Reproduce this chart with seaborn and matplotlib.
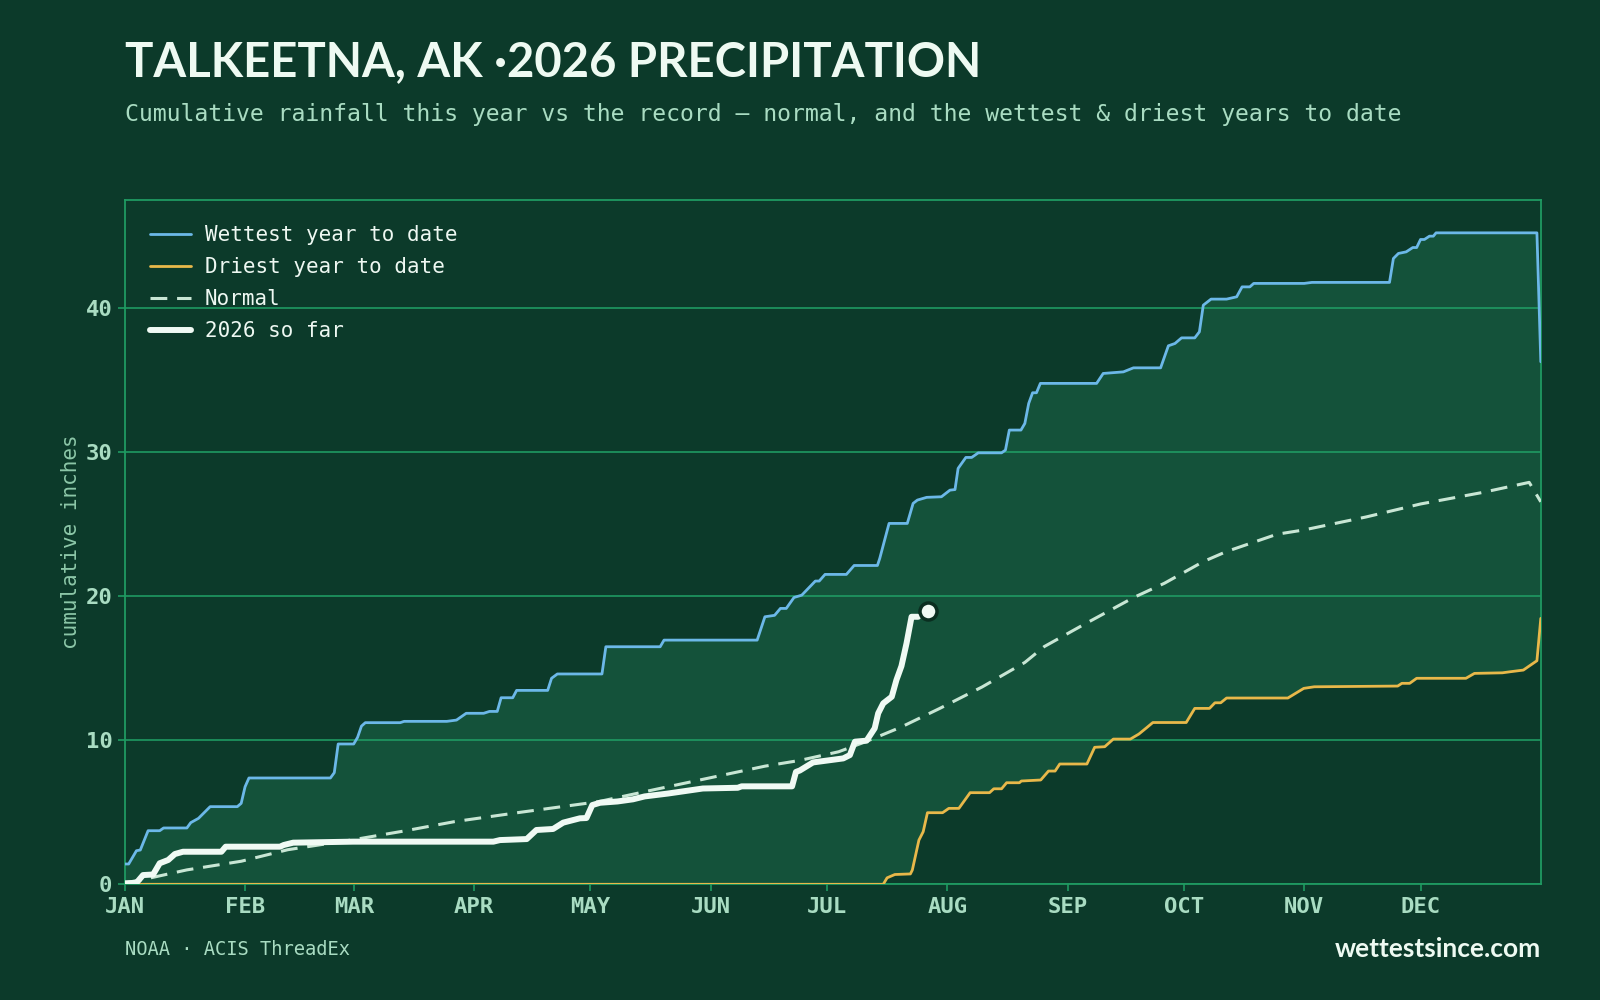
import matplotlib
matplotlib.use("Agg")
import matplotlib.pyplot as plt
import numpy as np
import pandas as pd
import seaborn as sns

# ---- data (day of year 0 = Jan 1, cumulative inches) ----
month_days = [0, 31, 59, 90, 120, 151, 181, 212, 243, 273, 304, 334]
month_labels = ["JAN", "FEB", "MAR", "APR", "MAY", "JUN",
                "JUL", "AUG", "SEP", "OCT", "NOV", "DEC"]

wet_day = [0, 1, 3, 4, 6, 9, 10, 16, 17, 19, 22, 29, 30, 31, 32, 53, 54, 55, 59, 60,
           61, 62, 71, 72, 83, 85.5, 88, 92.5, 94, 96, 97, 100, 101, 109, 110, 111.5,
           123, 124, 138, 139, 163, 165, 167.5, 169, 170.5, 172.5, 174.5, 178, 179,
           180.5, 186, 188, 194, 194.6, 197, 201.7, 203.2, 204.3, 206.7, 210.5, 212.7,
           214, 214.8, 216.8, 218.3, 220, 226, 227, 228, 231, 232, 233, 234, 235, 236,
           250.5, 252.2, 257.4, 260, 267, 269, 270.7, 272.4, 275.8, 277, 278, 280, 284,
           286.6, 288, 290, 291, 304, 306, 326, 327, 328.3, 330.3, 332, 333, 334, 335,
           336.3, 337.3, 338, 364, 365]
wet_in = [1.41, 1.41, 2.33, 2.38, 3.72, 3.72, 3.91, 3.91, 4.28, 4.58, 5.39, 5.39, 5.62,
          6.77, 7.38, 7.38, 7.75, 9.74, 9.74, 10.2, 10.98, 11.22, 11.22, 11.31, 11.31,
          11.40, 11.87, 11.87, 12.0, 12.0, 12.95, 12.95, 13.46, 13.46, 14.3, 14.6, 14.6,
          16.49, 16.49, 16.95, 16.95, 18.57, 18.67, 19.15, 19.15, 19.91, 20.07, 21.05,
          21.05, 21.51, 21.51, 22.13, 22.13, 22.62, 25.05, 25.05, 26.44, 26.67, 26.86,
          26.9, 27.36, 27.4, 28.87, 29.63, 29.63, 29.95, 29.95, 30.14, 31.53, 31.53,
          31.99, 33.38, 34.12, 34.12, 34.77, 34.77, 35.46, 35.57, 35.85, 35.85, 37.38,
          37.54, 37.93, 37.93, 38.35, 40.2, 40.62, 40.62, 40.78, 41.47, 41.47, 41.71,
          41.71, 41.78, 41.78, 43.44, 43.79, 43.9, 44.2, 44.2, 44.76, 44.76, 44.99,
          44.99, 45.22, 45.22, 36.27]

dry_day = [0, 195.5, 196.5, 198.5, 202.5, 203, 204.7, 205.8, 206.9, 210.8, 212.4, 215,
           217.9, 222.9, 224, 226, 227.3, 230.6, 231.1, 236.1, 238.1, 239.8, 241, 248,
           250, 252.6, 254.8, 259.2, 261.4, 263.4, 265, 273.6, 275.8, 279.6, 281, 282.5,
           284, 299.8, 303.9, 306.6, 328.1, 329.2, 331.2, 333, 345.7, 347.9, 355.1, 357,
           360.5, 364, 365]
dry_in = [0, 0, 0.45, 0.68, 0.72, 0.99, 3.07, 3.65, 4.97, 4.97, 5.27, 5.27, 6.36, 6.36,
          6.63, 6.63, 7.05, 7.05, 7.17, 7.24, 7.86, 7.86, 8.35, 8.35, 9.51, 9.55, 10.08,
          10.08, 10.43, 10.87, 11.23, 11.23, 12.21, 12.21, 12.6, 12.6, 12.93, 12.93,
          13.6, 13.71, 13.76, 13.95, 13.95, 14.3, 14.3, 14.64, 14.68, 14.75, 14.87,
          15.52, 18.46]

normal_day = [0, 5, 16, 30, 42, 59, 72, 85, 102, 122, 137, 151, 165, 174, 184, 191, 200,
              210, 221, 232, 237, 247, 260, 268, 278, 284, 297, 304, 320, 334, 350, 362,
              365]
normal_in = [0.1, 0.35, 1.0, 1.6, 2.4, 3.1, 3.7, 4.35, 5.0, 5.73, 6.6, 7.4, 8.2, 8.6,
             9.2, 9.9, 10.9, 12.2, 13.7, 15.4, 16.5, 18.0, 19.9, 20.9, 22.4, 23.1,
             24.3, 24.6, 25.5, 26.4, 27.2, 27.9, 26.55]

ytd_day = [0, 3, 4.7, 7.3, 9, 11.2, 12.9, 15, 24.9, 26, 40, 41, 43.4, 58.9, 70.9, 95,
           96.7, 103.6, 106.1, 110.4, 113, 114, 117.3, 119, 120.5, 122.5, 127, 131, 134,
           140, 149, 158, 159, 172, 173, 174, 177.4, 185.2, 186.9, 188.2, 191.2, 193.3,
           194.2, 195.5, 197.7, 198.9, 200.2, 201.5, 202.8, 204.5]
ytd_in = [0.07, 0.1, 0.64, 0.68, 1.46, 1.69, 2.1, 2.26, 2.26, 2.61, 2.61, 2.73, 2.89,
          2.96, 2.96, 2.96, 3.07, 3.14, 3.77, 3.84, 4.28, 4.35, 4.58, 4.6, 5.5, 5.66,
          5.75, 5.9, 6.1, 6.3, 6.65, 6.7, 6.8, 6.8, 7.8, 7.9, 8.46, 8.74, 8.97, 9.9,
          9.97, 10.83, 11.87, 12.56, 13.02, 14.18, 15.15, 16.72, 18.57, 18.57]

today_day = 207.1
today_in = 18.97

# ---- colours ----
BG = "#0c3a2a"
BAND = "#14523a"
GRID = "#1f9a62"
TICK = "#a9dcc2"
WET = "#6cb8e8"
DRY = "#e8b84a"
NORMAL = "#c8e6d4"
NOW = "#f0faf4"

sns.set_theme(style="white")
plt.rcParams["font.family"] = ["DejaVu Sans Mono"]

fig = plt.figure(figsize=(16, 10), dpi=100, facecolor=BG)
ax = fig.add_axes([0.078, 0.1157, 0.885, 0.6843])
ax.set_facecolor(BG)

wet = pd.DataFrame({"day": wet_day, "inches": wet_in})
dry = pd.DataFrame({"day": dry_day, "inches": dry_in})
normal = pd.DataFrame({"day": normal_day, "inches": normal_in})
ytd = pd.DataFrame({"day": ytd_day, "inches": ytd_in})

# record band between wettest and driest
ax.fill(np.concatenate([wet["day"], dry["day"][::-1]]),
        np.concatenate([wet["inches"], dry["inches"][::-1]]),
        color=BAND, lw=0, zorder=1)

sns.lineplot(data=wet, x="day", y="inches", ax=ax, color=WET, lw=2.0,
             estimator=None, label="Wettest year to date", zorder=4)
sns.lineplot(data=dry, x="day", y="inches", ax=ax, color=DRY, lw=2.0,
             estimator=None, label="Driest year to date", zorder=4)
sns.lineplot(data=normal, x="day", y="inches", ax=ax, color=NORMAL, lw=2.2,
             estimator=None, label="Normal", zorder=4, dashes=False)
ax.lines[-1].set_dashes((5.5, 3.2))
sns.lineplot(data=ytd, x="day", y="inches", ax=ax, color=NOW, lw=4.3,
             estimator=None, label="2026 so far", zorder=5)
ax.scatter([today_day], [today_in], s=150, color=NOW, edgecolor="#0a2e20",
           linewidth=2.5, zorder=6)

ax.set_xlim(0, 365)
ax.set_ylim(0, 47.5)
ax.set_xticks(month_days)
ax.set_xticklabels(month_labels)
ax.set_yticks([0, 10, 20, 30, 40])
ax.tick_params(axis="both", colors=GRID, labelcolor=TICK, labelsize=16,
               length=5, width=1.2, pad=4, bottom=True, left=True)
for lab in ax.get_xticklabels() + ax.get_yticklabels():
    lab.set_fontweight("bold")

ax.yaxis.grid(True, color=GRID, lw=1.2)
ax.xaxis.grid(False)
ax.set_axisbelow(False)
for sp in ax.spines.values():
    sp.set_color(GRID)
    sp.set_linewidth(1.3)

ax.set_xlabel("")
ax.set_ylabel("cumulative inches", color="#8cc7a8", fontsize=15, labelpad=3)

leg = ax.legend(loc="upper left", frameon=False, fontsize=15, handlelength=2.0,
                borderaxespad=0.8, labelspacing=0.58, handletextpad=0.65)
for t in leg.get_texts():
    t.set_color("#eef8f2")

fig.text(0.078, 0.924, "TALKEETNA, AK ·2026 PRECIPITATION", fontsize=34,
         fontweight="bold", color="#eefaf2", family=["Lato", "DejaVu Sans"])
fig.text(0.078, 0.879,
         "Cumulative rainfall this year vs the record — normal, and the wettest & driest years to date",
         fontsize=16.65, color=TICK)
fig.text(0.078, 0.045, "NOAA · ACIS ThreadEx", fontsize=13.5, color=TICK)
fig.text(0.963, 0.043, "wettestsince.com", fontsize=19, fontweight="bold",
         color="#eefaf2", ha="right", family=["Lato", "DejaVu Sans"])

fig.savefig("out.png", dpi=100, facecolor=BG)
